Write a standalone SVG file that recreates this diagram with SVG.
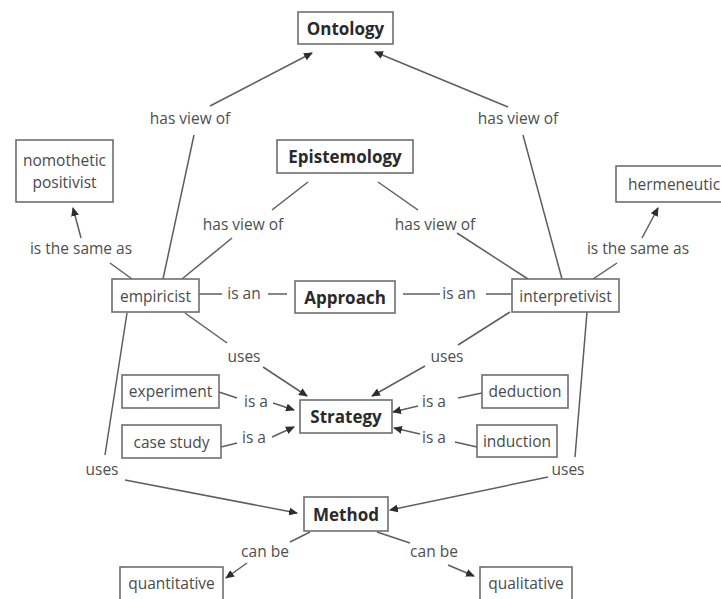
<svg xmlns="http://www.w3.org/2000/svg" width="721" height="599" viewBox="0 0 721 599">
  <style>
    .box { fill: #fff; stroke: #6e6e6e; stroke-width: 1.6; }
    .nt { font-family: "Open Sans", "Lato", sans-serif; font-size: 15.5px; fill: #4a4a4a; text-anchor: middle; dominant-baseline: central; }
    .bt { font-family: "Open Sans", "Lato", sans-serif; font-size: 17px; font-weight: bold; fill: #2a2a2a; text-anchor: middle; dominant-baseline: central; }
    .lbl { font-family: "Open Sans", "Lato", sans-serif; font-size: 15.5px; fill: #4e4e4e; text-anchor: middle; dominant-baseline: central; }
    .ln { fill: none; stroke: #5e5e5e; stroke-width: 1.5; }
    .arr { marker-end: url(#head); }
  </style>
  <defs>
    <marker id="head" markerWidth="9" markerHeight="8" refX="8" refY="4" orient="auto" markerUnits="userSpaceOnUse">
      <path d="M0,0 L9,4 L0,8 Z" fill="#2e2e2e"/>
    </marker>
  </defs>
  <rect width="721" height="599" fill="#fff"/>

  <!-- connectors with their link phrases -->
  <g id="connectors">
    <!-- empiricist has view of Ontology -->
    <line class="ln" x1="163" y1="279" x2="194" y2="135"/>
    <line class="ln arr" x1="210" y1="106" x2="312" y2="53"/>
    <text class="lbl" x="190" y="118">has view of</text>
    <!-- interpretivist has view of Ontology -->
    <line class="ln" x1="562" y1="279" x2="523" y2="135"/>
    <line class="ln arr" x1="508" y1="107" x2="375" y2="52"/>
    <text class="lbl" x="518" y="118">has view of</text>
    <!-- empiricist has view of Epistemology -->
    <line class="ln" x1="182" y1="279" x2="232" y2="238"/>
    <line class="ln" x1="272" y1="210" x2="308" y2="182"/>
    <text class="lbl" x="243" y="224">has view of</text>
    <!-- interpretivist has view of Epistemology -->
    <line class="ln" x1="378" y1="182" x2="418" y2="210"/>
    <line class="ln" x1="457" y1="233" x2="528" y2="279"/>
    <text class="lbl" x="435" y="224">has view of</text>
    <!-- is the same as -->
    <line class="ln" x1="132" y1="279" x2="110" y2="263"/>
    <line class="ln arr" x1="81" y1="238" x2="73" y2="208"/>
    <text class="lbl" x="81" y="248">is the same as</text>
    <line class="ln" x1="593" y1="279" x2="617" y2="263"/>
    <line class="ln arr" x1="642" y1="238" x2="658" y2="208"/>
    <text class="lbl" x="638" y="248">is the same as</text>
    <!-- is an -->
    <line class="ln" x1="199" y1="294" x2="222" y2="294"/>
    <line class="ln" x1="268" y1="294" x2="287" y2="294"/>
    <text class="lbl" x="244" y="293">is an</text>
    <line class="ln" x1="403" y1="294" x2="440" y2="294"/>
    <line class="ln" x1="486" y1="294" x2="512" y2="294"/>
    <text class="lbl" x="459" y="293">is an</text>
    <!-- uses Strategy -->
    <line class="ln" x1="185" y1="313" x2="227" y2="343"/>
    <line class="ln arr" x1="263" y1="367" x2="307" y2="396"/>
    <text class="lbl" x="244" y="356">uses</text>
    <line class="ln" x1="510" y1="312" x2="458" y2="345"/>
    <line class="ln arr" x1="425" y1="366" x2="372" y2="396"/>
    <text class="lbl" x="447" y="356">uses</text>
    <!-- is a Strategy -->
    <line class="ln" x1="219" y1="392" x2="237" y2="398"/>
    <line class="ln arr" x1="273" y1="403" x2="294" y2="410"/>
    <text class="lbl" x="256" y="401">is a</text>
    <line class="ln" x1="221" y1="447" x2="237" y2="443"/>
    <line class="ln arr" x1="272" y1="437" x2="294" y2="427"/>
    <text class="lbl" x="254" y="437">is a</text>
    <line class="ln" x1="482" y1="393" x2="458" y2="398"/>
    <line class="ln arr" x1="418" y1="406" x2="393" y2="412"/>
    <text class="lbl" x="434" y="401">is a</text>
    <line class="ln" x1="477" y1="447" x2="455" y2="442"/>
    <line class="ln arr" x1="420" y1="434" x2="394" y2="428"/>
    <text class="lbl" x="434" y="437">is a</text>
    <!-- uses Method -->
    <line class="ln" x1="127" y1="313" x2="105" y2="455"/>
    <line class="ln arr" x1="125" y1="480" x2="297" y2="513"/>
    <text class="lbl" x="102" y="469">uses</text>
    <line class="ln" x1="587" y1="312" x2="575" y2="457"/>
    <line class="ln arr" x1="548" y1="477" x2="390" y2="510"/>
    <text class="lbl" x="568" y="469">uses</text>
    <!-- can be -->
    <line class="ln" x1="310" y1="532" x2="290" y2="542"/>
    <line class="ln arr" x1="247" y1="563" x2="226" y2="578"/>
    <text class="lbl" x="265" y="551">can be</text>
    <line class="ln" x1="377" y1="532" x2="410" y2="543"/>
    <line class="ln arr" x1="448" y1="565" x2="474" y2="576"/>
    <text class="lbl" x="434" y="551">can be</text>
  </g>

  <!-- concept nodes -->
  <g id="ontology">
    <rect class="box" x="298" y="12" width="95" height="32"/>
    <text class="bt" x="345.5" y="28">Ontology</text>
  </g>
  <g id="epistemology">
    <rect class="box" x="277" y="140" width="136" height="33"/>
    <text class="bt" x="345" y="156.5">Epistemology</text>
  </g>
  <g id="nomothetic-positivist">
    <rect class="box" x="16" y="140" width="97" height="62"/>
    <text class="nt" x="64.5" y="160">nomothetic</text>
    <text class="nt" x="64.5" y="182">positivist</text>
  </g>
  <g id="hermeneutic">
    <rect class="box" x="616" y="166" width="120" height="36"/>
    <text class="nt" x="616" y="184" style="text-anchor:start" dx="12">hermeneutic</text>
  </g>
  <g id="empiricist">
    <rect class="box" x="112" y="279" width="87" height="33"/>
    <text class="nt" x="155.5" y="295.5">empiricist</text>
  </g>
  <g id="approach">
    <rect class="box" x="295" y="281" width="100" height="32"/>
    <text class="bt" x="345" y="297">Approach</text>
  </g>
  <g id="interpretivist">
    <rect class="box" x="512" y="279" width="107" height="33"/>
    <text class="nt" x="565.5" y="295.5">interpretivist</text>
  </g>
  <g id="experiment">
    <rect class="box" x="122" y="375" width="97" height="33"/>
    <text class="nt" x="170.5" y="391">experiment</text>
  </g>
  <g id="case-study">
    <rect class="box" x="122" y="425" width="99" height="33"/>
    <text class="nt" x="171.5" y="441.5">case study</text>
  </g>
  <g id="strategy">
    <rect class="box" x="300" y="400" width="92" height="33"/>
    <text class="bt" x="346" y="416.5">Strategy</text>
  </g>
  <g id="deduction">
    <rect class="box" x="482" y="375" width="86" height="33"/>
    <text class="nt" x="525" y="391">deduction</text>
  </g>
  <g id="induction">
    <rect class="box" x="477" y="425" width="80" height="32"/>
    <text class="nt" x="517" y="441">induction</text>
  </g>
  <g id="method">
    <rect class="box" x="304" y="497" width="84" height="34"/>
    <text class="bt" x="346" y="514">Method</text>
  </g>
  <g id="quantitative">
    <rect class="box" x="120" y="567" width="103" height="40"/>
    <text class="nt" x="171.5" y="583">quantitative</text>
  </g>
  <g id="qualitative">
    <rect class="box" x="480" y="567" width="92" height="40"/>
    <text class="nt" x="526" y="583">qualitative</text>
  </g>
</svg>
